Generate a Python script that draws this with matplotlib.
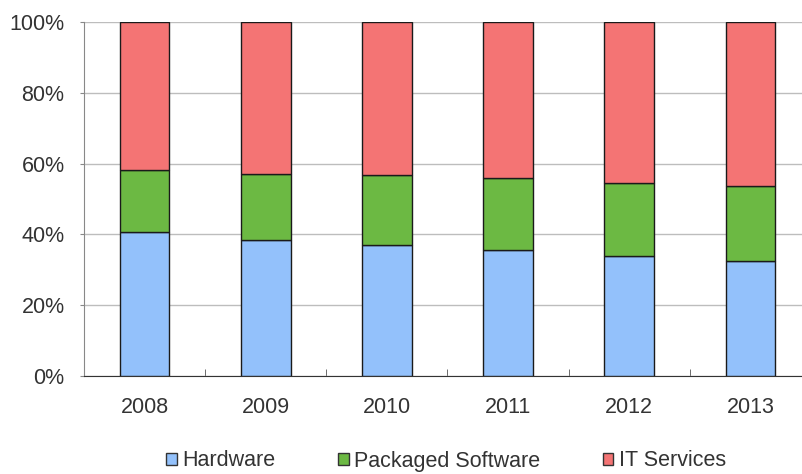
import matplotlib
matplotlib.use("Agg")
import matplotlib.pyplot as plt
import numpy as np
from matplotlib.patches import Patch

years = ["2008", "2009", "2010", "2011", "2012", "2013"]
hardware = [40.6, 38.4, 37.1, 35.5, 34.0, 32.4]
software = [17.6, 18.7, 19.6, 20.5, 20.6, 21.3]
services = [100 - h - s for h, s in zip(hardware, software)]
series_names = ["Hardware", "Packaged Software", "IT Services"]
colors = ["#93c1fb", "#6cb943", "#f47474"]
yticks = [0, 20, 40, 60, 80, 100]
ytick_labels = ["0%", "20%", "40%", "60%", "80%", "100%"]

plt.rcParams['font.family'] = ['Liberation Sans', 'DejaVu Sans']
W, H = 803, 474
fig = plt.figure(figsize=(W / 100, H / 100), dpi=100)
ax = fig.add_axes([84 / W, (H - 376) / H, 727 / W, 354 / H])

x = np.arange(len(years))
bw = 0.41
bottom = np.zeros(len(years))
for vals, c in zip([hardware, software, services], colors):
    ax.bar(x, vals, bw, bottom=bottom, color=c, edgecolor="#1a1a1a", linewidth=1.0, zorder=3)
    bottom += np.array(vals)

ax.set_xlim(-0.5, len(years) - 0.5)
ax.set_ylim(0, 100)
ax.set_yticks(yticks)
ax.set_yticklabels(ytick_labels)
ax.set_xticks(x)
ax.set_xticklabels(years)
ax.set_xticks(np.arange(len(years) + 1) - 0.5, minor=True)
ax.tick_params(axis="x", which="major", length=0, pad=15, labelsize=15.5, colors="#333333")
ax.tick_params(axis="x", which="minor", direction="in", length=5, color="#555555")
ax.tick_params(axis="y", length=3, color="#888888", pad=11, labelsize=15.5, labelcolor="#333333")
ax.grid(axis="y", color="#bdbdbd", linewidth=1.0, zorder=0)
ax.set_axisbelow(True)
for s in ["top", "right"]:
    ax.spines[s].set_visible(False)
ax.spines["left"].set_color("#888888")
ax.spines["bottom"].set_color("#333333")

handles = [Patch(facecolor=c, edgecolor="#333333", linewidth=1.0) for c in colors]
fig.legend(handles, series_names, loc="center", bbox_to_anchor=(446 / W, 13 / H),
           ncol=3, frameon=False, fontsize=15.5, handlelength=0.5, handleheight=0.5,
           handletextpad=0.25, columnspacing=2.9, labelcolor="#333333")

fig.savefig("out.png", dpi=100)
